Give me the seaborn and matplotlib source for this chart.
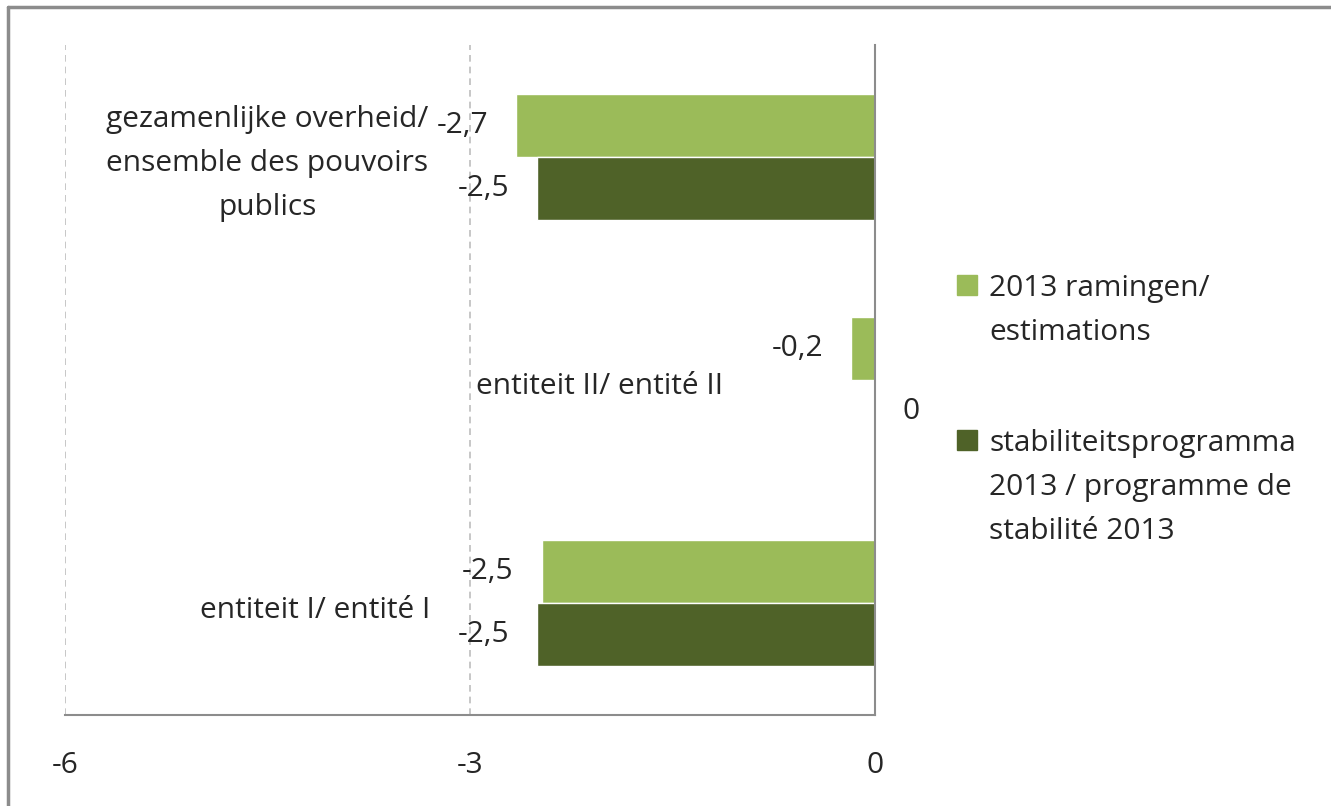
import pandas as pd
import seaborn as sns
import matplotlib.pyplot as plt
from matplotlib.lines import Line2D


# data
categories = ["gezamenlijke overheid/\nensemble des pouvoirs\npublics",
              "entiteit II/ entité II",
              "entiteit I/ entité I"]
series_names = ["2013 ramingen/\nestimations",
                "stabiliteitsprogramma\n2013 / programme de\nstabilité 2013"]
ramingen = [-2.66, -0.18, -2.47]
stabiliteit = [-2.5, 0.0, -2.5]
x_ticks = [-6, -3, 0]

colors = ["#9BBB59", "#4F6228"]
FS = 21.5

df = pd.DataFrame({
    "categorie": categories * 2,
    "reeks": [series_names[0]] * 3 + [series_names[1]] * 3,
    "waarde": ramingen + stabiliteit,
})

sns.set_theme(style="white")
plt.rcParams["font.family"] = ["Open Sans", "DejaVu Sans"]

fig = plt.figure(figsize=(13.31, 8.06), dpi=100)
ax = fig.add_axes([0.0488, 0.1129, 0.6086, 0.8311])

sns.barplot(data=df, y="categorie", x="waarde", hue="reeks", orient="h",
            palette=colors, width=0.565, order=categories,
            hue_order=series_names, ax=ax, saturation=1, legend=False)

ax.set_xlim(-6, 0)
ax.set_xticks(x_ticks)
ax.set_xticklabels([str(t) for t in x_ticks], fontsize=FS)
ax.tick_params(axis="x", length=0, pad=26)
ax.set_yticks([])
ax.set_xlabel("")
ax.set_ylabel("")

for t in [-6, -3]:
    ax.axvline(t, color="#BDBDBD", lw=1.2, ls=(0, (4, 3)), zorder=0)

for s in ["left", "top"]:
    ax.spines[s].set_visible(False)
for s in ["bottom", "right"]:
    ax.spines[s].set_color("#8C8C8C")
    ax.spines[s].set_linewidth(1.5)

# data labels
for cont in ax.containers:
    labels = []
    for bar in cont:
        v = bar.get_width()
        labels.append("0" if abs(v) < 1e-9 else f"{v:.1f}".replace(".", ","))
    ax.bar_label(cont, labels=labels, padding=20, fontsize=FS)

# category labels sit inside the plot area
label_x = [-4.50, -2.04, -4.15]
for i, (cat, lx) in enumerate(zip(categories, label_x)):
    ax.text(lx, i + 0.03, cat, ha="center", va="center", fontsize=FS,
            linespacing=1.68)

handles = [Line2D([0], [0], marker="s", ls="", markersize=15,
                  markerfacecolor=c, markeredgecolor=c) for c in colors]
leg = fig.legend(handles, series_names, loc="upper left",
                 bbox_to_anchor=(0.6965, 0.693), frameon=False, fontsize=FS,
                 handlelength=0.85, handletextpad=0.33, labelspacing=2.75)
for txt in leg.get_texts():
    txt.set_linespacing(1.68)
# put the colour square next to the first line of each entry
for col in leg._legend_handle_box.get_children():
    for row in col.get_children():
        row.align = "top"

# outer frame (top and left edges visible)
fig.add_artist(Line2D([0.006, 1.0], [0.991, 0.991], color="#8C8C8C", lw=2.5))
fig.add_artist(Line2D([0.006, 0.006], [0.0, 0.991], color="#8C8C8C", lw=2.5))

fig.savefig("out.png", dpi=100)
